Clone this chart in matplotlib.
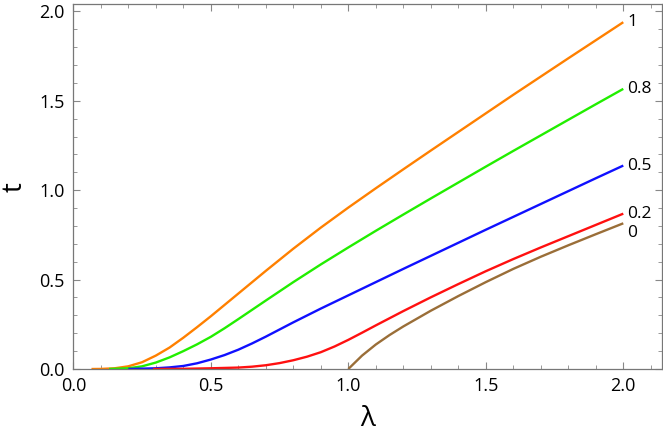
import matplotlib
matplotlib.use("Agg")
import matplotlib.pyplot as plt
from matplotlib.ticker import MultipleLocator

# ---- data ----
lam_1 = [0.066, 0.10, 0.15, 0.20, 0.25, 0.30, 0.35, 0.40, 0.45, 0.50, 0.60, 0.70,
         0.80, 0.90, 1.00, 1.10, 1.20, 1.30, 1.40, 1.50, 1.60, 1.70, 1.80, 1.90, 2.00]
t_1 = [0.0, 0.0005, 0.004, 0.015, 0.038, 0.075, 0.120, 0.175, 0.234, 0.295, 0.422, 0.549,
       0.673, 0.791, 0.903, 1.011, 1.117, 1.222, 1.326, 1.430, 1.534, 1.636, 1.738, 1.839, 1.940]

lam_08 = [0.13, 0.20, 0.25, 0.30, 0.35, 0.40, 0.45, 0.50, 0.55, 0.60, 0.70, 0.80, 0.90,
          1.00, 1.10, 1.20, 1.30, 1.40, 1.50, 1.60, 1.70, 1.80, 1.90, 2.00]
t_08 = [0.0, 0.004, 0.015, 0.036, 0.065, 0.100, 0.138, 0.180, 0.228, 0.279, 0.383, 0.486, 0.585,
        0.680, 0.773, 0.864, 0.954, 1.043, 1.132, 1.220, 1.307, 1.394, 1.481, 1.567]

lam_05 = [0.20, 0.30, 0.35, 0.40, 0.45, 0.50, 0.55, 0.60, 0.65, 0.70, 0.75, 0.80, 0.90,
          1.00, 1.10, 1.20, 1.30, 1.40, 1.50, 1.60, 1.70, 1.80, 1.90, 2.00]
t_05 = [0.0, 0.004, 0.009, 0.017, 0.032, 0.053, 0.078, 0.108, 0.143, 0.181, 0.221, 0.261, 0.338,
        0.412, 0.486, 0.560, 0.633, 0.706, 0.779, 0.851, 0.923, 0.995, 1.067, 1.138]

lam_02 = [0.29, 0.40, 0.50, 0.60, 0.65, 0.70, 0.75, 0.80, 0.85, 0.90, 0.95, 1.00, 1.05,
          1.10, 1.20, 1.30, 1.40, 1.50, 1.60, 1.70, 1.80, 1.90, 2.00]
t_02 = [0.0, 0.001, 0.004, 0.008, 0.013, 0.021, 0.033, 0.049, 0.069, 0.094, 0.126, 0.163, 0.203,
        0.244, 0.324, 0.401, 0.475, 0.547, 0.615, 0.680, 0.743, 0.806, 0.869]

lam_0 = [1.00, 1.05, 1.10, 1.15, 1.20, 1.30, 1.40, 1.50, 1.60, 1.70, 1.80, 1.90, 2.00]
t_0 = [0.0, 0.075, 0.137, 0.190, 0.238, 0.326, 0.408, 0.486, 0.560, 0.628, 0.692, 0.754, 0.815]

labels = ["1", "0.8", "0.5", "0.2", "0"]

# ---- styling ----
plt.rcParams['font.family'] = ['Open Sans', 'DejaVu Sans']

fig = plt.figure(figsize=(6.63, 4.37), dpi=100)
ax = fig.add_axes([0.1106, 0.1556, 0.8884, 0.8345])

series = [
    (lam_1, t_1, "#FF8000", labels[0], 0),
    (lam_08, t_08, "#22EE00", labels[1], 0),
    (lam_05, t_05, "#1010FF", labels[2], 0),
    (lam_02, t_02, "#FF1010", labels[3], 0),
    (lam_0, t_0, "#9A6E38", labels[4], -7),
]
for x, y, c, lab, dy in series:
    ax.plot(x, y, color=c, lw=1.7, solid_capstyle='butt', solid_joinstyle='round')
    ax.annotate(lab, xy=(x[-1], y[-1]), xytext=(3, dy), textcoords='offset points',
                ha='left', va='center', fontsize=12.5, color='black')

ax.set_xlim(0, 2.142)
ax.set_ylim(0, 2.04)
ax.xaxis.set_major_locator(MultipleLocator(0.5))
ax.xaxis.set_minor_locator(MultipleLocator(0.1))
ax.yaxis.set_major_locator(MultipleLocator(0.5))
ax.yaxis.set_minor_locator(MultipleLocator(0.1))
ax.xaxis.set_major_formatter(plt.FormatStrFormatter('%.1f'))
ax.yaxis.set_major_formatter(plt.FormatStrFormatter('%.1f'))

ax.tick_params(which='both', direction='in', top=True, right=True, color='#888888',
               labelsize=13, labelcolor='black')
ax.tick_params(which='major', length=5, width=0.8, pad=6)
ax.tick_params(which='minor', length=3, width=0.6)
for s in ax.spines.values():
    s.set_color('#777777')
    s.set_linewidth(0.9)

ax.set_xlabel('λ', fontsize=20, labelpad=7)
ax.set_ylabel('t', fontsize=20, labelpad=8)

fig.savefig('out.png', dpi=100)
